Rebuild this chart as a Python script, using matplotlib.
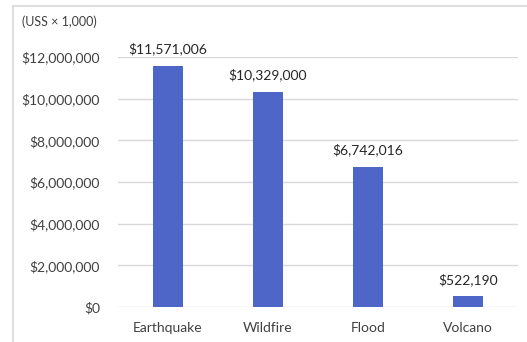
import matplotlib.pyplot as plt
from matplotlib.lines import Line2D
from matplotlib.ticker import FuncFormatter

# data
categories = ["Earthquake", "Wildfire", "Flood", "Volcano"]
losses = [11571006, 10329000, 6742016, 522190]
unit_label = "(USS × 1,000)"

plt.rcParams['font.family'] = ['Lato', 'DejaVu Sans']
W, H = 527, 342
fig = plt.figure(figsize=(W / 100, H / 100), dpi=100)

# light chart border (left and top visible)
fig.add_artist(Line2D([12.5 / W, 12.5 / W], [0, 1 - 6 / H], color='#D9D9D9', lw=1.2))
fig.add_artist(Line2D([12.5 / W, 1], [1 - 6 / H, 1 - 6 / H], color='#D9D9D9', lw=1.2))

ax = fig.add_axes([118 / W, 35 / H, 400 / W, 250 / H])
x = range(len(categories))
ax.bar(x, losses, width=0.3, color='#4E66C8', zorder=3)
ax.set_xlim(-0.5, 3.5)
ax.set_ylim(0, 12000000)
ax.set_yticks(range(0, 12000001, 2000000))
ax.yaxis.set_major_formatter(FuncFormatter(lambda v, p: "${:,.0f}".format(v)))
ax.set_xticks(list(x))
ax.set_xticklabels(categories)
ax.grid(axis='y', color='#D9D9D9', lw=1, zorder=0)
for s in ax.spines.values():
    s.set_visible(False)
ax.tick_params(length=0, labelsize=10, colors='#404040', pad=11)
ax.tick_params(axis='y', pad=13)

for i, v in enumerate(losses):
    ax.text(i, v + 500000, "${:,.0f}".format(v), ha='center', va='bottom',
            fontsize=10, color='#262626', clip_on=False)

fig.text(22 / W, 1 - 22 / H, unit_label, fontsize=9, color='#404040', va='center')

fig.savefig("out.png", dpi=100)
